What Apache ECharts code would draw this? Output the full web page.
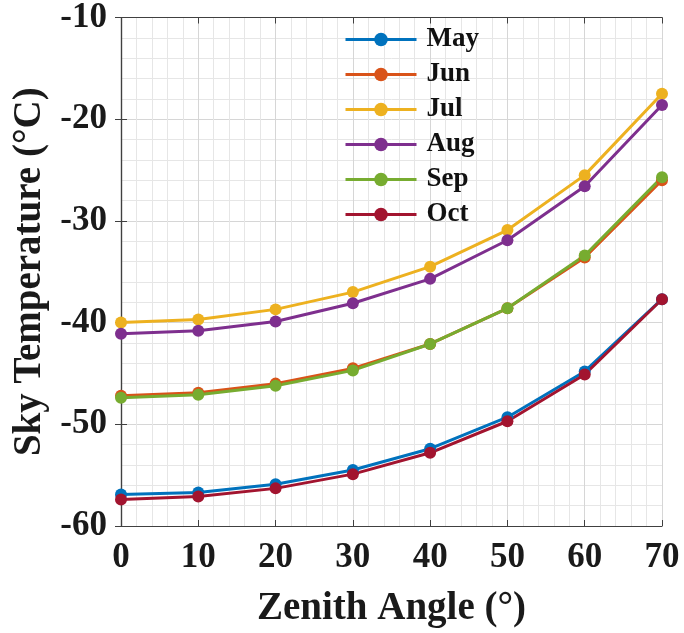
<!DOCTYPE html>
<html>
<head>
<meta charset="utf-8">
<script src="https://cdn.jsdelivr.net/npm/echarts@6/dist/echarts.min.js"></script>
<style>
  html, body { margin: 0; padding: 0; background: #fff; }
  #chart { width: 684px; height: 633px; }
</style>
</head>
<body>
<div id="chart"></div>
<script>
// zenith angle (deg)
const angles = [0, 10, 20, 30, 40, 50, 60, 70];
const months = ['May', 'Jun', 'Jul', 'Aug', 'Sep', 'Oct'];
// sky temperature (°C) per month
const may = [-56.9, -56.7, -55.9, -54.5, -52.4, -49.3, -44.8, -37.7];
const jun = [-47.2, -46.9, -46.0, -44.5, -42.1, -38.6, -33.6, -26.0];
const jul = [-40.0, -39.7, -38.7, -37.0, -34.5, -30.9, -25.5, -17.5];
const aug = [-41.1, -40.8, -39.9, -38.1, -35.7, -31.9, -26.6, -18.6];
const sep = [-47.4, -47.1, -46.2, -44.7, -42.1, -38.6, -33.4, -25.7];
const oct = [-57.4, -57.1, -56.3, -54.9, -52.8, -49.7, -45.1, -37.7];
const colors = ['#0072BD', '#D95319', '#EDB120', '#7E2F8E', '#77AC30', '#A2142F'];

const font = "'Liberation Serif', 'Times New Roman', serif";
const axisColor = '#404040';

const chart = echarts.init(document.getElementById('chart'));

function mkSeries(name, vals, i) {
  return {
    name: name,
    type: 'line',
    data: angles.map((a, k) => [a, vals[k]]),
    symbol: 'circle',
    symbolSize: 12,
    lineStyle: { width: 3, color: colors[i] },
    itemStyle: { color: colors[i] },
    z: 3
  };
}

const boxAxis = {
  axisLine: { show: true, lineStyle: { color: axisColor, width: 1.2 } },
  axisTick: { show: true, inside: true, length: 6, lineStyle: { color: axisColor } },
  axisLabel: { show: false },
  splitLine: { show: false }
};

const option = {
  animation: false,
  color: colors,
  grid: { left: 121, top: 16, right: 22, bottom: 106 },
  legend: {
    orient: 'vertical',
    left: 339,
    top: 21,
    itemWidth: 71,
    itemHeight: 17,
    itemGap: 8,
    data: months,
    lineStyle: { width: 3 },
    textStyle: { fontFamily: font, fontWeight: 'bold', fontSize: 27, color: '#111', lineHeight: 27, padding: [0, 0, 0, 5] }
  },
  xAxis: [
    {
      type: 'value',
      min: 0,
      max: 70,
      interval: 10,
      name: 'Zenith Angle (°)',
      nameLocation: 'middle',
      nameGap: 63,
      nameTextStyle: { fontFamily: font, fontWeight: 'bold', fontSize: 39, color: '#1a1a1a' },
      axisLine: { show: true, lineStyle: { color: axisColor, width: 1.2 } },
      axisTick: { show: true, inside: true, length: 6, lineStyle: { color: axisColor } },
      axisLabel: { fontFamily: font, fontWeight: 'bold', fontSize: 35, color: '#1a1a1a', margin: 14 },
      minorTick: { show: false, splitNumber: 5 },
      splitLine: { show: true, lineStyle: { color: '#d6d6d6', width: 1 } },
      minorSplitLine: { show: true, lineStyle: { color: '#e6e6e6', width: 1 } }
    },
    Object.assign({ type: 'value', position: 'top', min: 0, max: 70, interval: 10 }, boxAxis)
  ],
  yAxis: [
    {
      type: 'value',
      min: -60,
      max: -10,
      interval: 10,
      name: 'Sky Temperature (°C)',
      nameLocation: 'middle',
      nameGap: 72,
      nameTextStyle: { fontFamily: font, fontWeight: 'bold', fontSize: 39, color: '#1a1a1a' },
      axisLine: { show: true, lineStyle: { color: axisColor, width: 1.2 } },
      axisTick: { show: true, inside: true, length: 6, lineStyle: { color: axisColor } },
      axisLabel: { fontFamily: font, fontWeight: 'bold', fontSize: 35, color: '#1a1a1a', margin: 14 },
      minorTick: { show: false, splitNumber: 5 },
      splitLine: { show: true, lineStyle: { color: '#d6d6d6', width: 1 } },
      minorSplitLine: { show: true, lineStyle: { color: '#e6e6e6', width: 1 } }
    },
    Object.assign({ type: 'value', position: 'right', min: -60, max: -10, interval: 10 }, boxAxis)
  ],
  series: [
    mkSeries('May', may, 0),
    mkSeries('Jun', jun, 1),
    mkSeries('Jul', jul, 2),
    mkSeries('Aug', aug, 3),
    mkSeries('Sep', sep, 4),
    mkSeries('Oct', oct, 5)
  ]
};

chart.setOption(option);
window.addEventListener('resize', () => {
  chart.resize();
});
</script>
</body>
</html>
